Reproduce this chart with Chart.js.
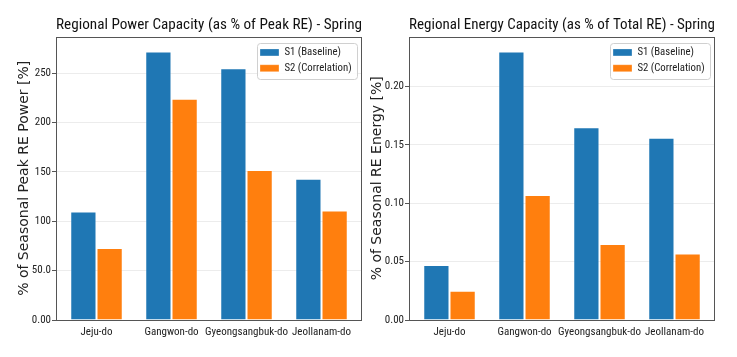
<!DOCTYPE html>
<html>
<head>
<meta charset="utf-8">
<script src="https://cdn.jsdelivr.net/npm/chart.js@4/dist/chart.umd.min.js"></script>
<style>
  html, body { margin: 0; padding: 0; background: #fff; overflow: hidden; }
  body { width: 737px; height: 357px; position: relative; }
  .wrap { position: absolute; top: 0; height: 357px; }
</style>
</head>
<body>
<div class="wrap" style="left:0px;width:418px;"><canvas id="c1"></canvas></div>
<div class="wrap" style="left:360px;width:404px;"><canvas id="c2"></canvas></div>
<script>
// ---- data ----
const categories = ['Jeju-do', 'Gangwon-do', 'Gyeongsangbuk-do', 'Jeollanam-do'];
const seriesNames = ['S1 (Baseline)', 'S2 (Correlation)'];
const powerS1 = [110, 272, 255, 143];
const powerS2 = [73, 224, 152, 111];
const energyS1 = [0.047, 0.230, 0.165, 0.156];
const energyS2 = [0.025, 0.107, 0.065, 0.057];
const powerTicks = [0, 50, 100, 150, 200, 250];
const powerTickLabels = ['0.00', '50.0', '100', '150', '200', '250'];
const energyTicks = [0, 0.05, 0.10, 0.15, 0.20];
const energyTickLabels = ['0.00', '0.05', '0.10', '0.15', '0.20'];

const NARROW = "'Roboto Condensed', 'DejaVu Sans Condensed', sans-serif";
const DEJAVU = "'DejaVu Sans', sans-serif";
const BLUE = '#1f77b4', ORANGE = '#ff7f0e';

const framePlugin = {
  id: 'axesFrame',
  afterDatasetsDraw(chart) {
    const {ctx, chartArea: a} = chart;
    ctx.save();
    ctx.strokeStyle = '#555';
    ctx.lineWidth = 1;
    ctx.strokeRect(Math.round(a.left) + 0.5, Math.round(a.top) + 0.5, Math.round(a.right - a.left) - 1, Math.round(a.bottom - a.top));
    ctx.restore();
  }
};

const legendInside = {
  id: 'legendInside',
  beforeLayout(chart) {
    const lg = chart.legend;
    if (!lg || lg._patched) return;
    lg._patched = true;
    const fit = lg.fit.bind(lg);
    lg.fit = function() { fit(); this._realW = this.width; this._realH = this.height; this.width = 0; };
    const draw = lg.draw.bind(lg);
    lg.draw = function(area) {
      const ctx = this.ctx;
      const f = this._frame;
      if (f) {
        ctx.save();
        ctx.beginPath();
        if (ctx.roundRect) ctx.roundRect(f.x + 0.5, f.y + 0.5, f.w, f.h, 3); else ctx.rect(f.x + 0.5, f.y + 0.5, f.w, f.h);
        ctx.fillStyle = 'rgba(255,255,255,0.9)';
        ctx.fill();
        ctx.strokeStyle = '#d0d0d0';
        ctx.lineWidth = 1;
        ctx.stroke();
        ctx.restore();
      }
      draw(area);
    };
  },
  afterLayout(chart) {
    const lg = chart.legend;
    const a = chart.chartArea;
    const w = lg._realW || 0;
    const fx2 = Math.round(a.right) - 5;
    const left = Math.round(fx2 + 5 - w);
    const top = Math.round(a.top) + 5;
    lg.left = left; lg.right = left + w; lg.width = w;
    lg.top = top; lg.bottom = top + 40; lg.height = 40;
    lg._frame = { x: left + 2, y: Math.round(a.top) + 6, w: fx2 - (left + 2), h: 36 };
  }
};

function makeChart(id, s1, s2, yMax, ticks, tickLabels, title, yTitle, axisW, padRight, yTitlePad) {
  const data = {
    datasets: [
      { label: seriesNames[0], data: s1.map((v, i) => ({x: i, y: v})), backgroundColor: BLUE },
      { label: seriesNames[1], data: s2.map((v, i) => ({x: i, y: v})), backgroundColor: ORANGE }
    ]
  };
  data.datasets.forEach(d => { d.borderColor = 'rgba(255,255,255,0.3)'; d.borderWidth = 1; d.categoryPercentage = 0.7; d.barPercentage = 1.0; });
  return new Chart(document.getElementById(id), {
    type: 'bar',
    data,
    plugins: [framePlugin, legendInside],
    options: {
      responsive: true,
      maintainAspectRatio: false,
      animation: false,
      devicePixelRatio: 1,
      layout: { padding: { left: 0, right: padRight, top: 0, bottom: 0 } },
      plugins: {
        title: {
          display: true, text: title, color: '#111', fullSize: false,
          font: { family: NARROW, size: 15.5, weight: 'normal' },
          padding: { top: 16, bottom: 2 }
        },
        legend: {
          position: 'right', align: 'start', maxWidth: 300,
          labels: { boxWidth: 19, boxHeight: 7, padding: 5, color: '#222', font: { family: NARROW, size: 10.8 } }
        },
        tooltip: { enabled: false }
      },
      scales: {
        x: {
          type: 'linear', min: -0.54, max: 3.54, offset: false,
          afterBuildTicks: s => { s.ticks = categories.map((_, i) => ({ value: i })); },
          afterFit: s => { s.height = 37; },
          grid: { display: false, drawTicks: false },
          border: { display: false },
          ticks: {
            callback: v => categories[v] ?? '',
            maxRotation: 0, minRotation: 0, autoSkip: false,
            padding: 6, color: '#222',
            font: { family: NARROW, size: 11 }
          }
        },
        y: {
          min: 0, max: yMax,
          afterBuildTicks: s => { s.ticks = ticks.map(v => ({ value: v })); },
          afterFit: s => { s.width = axisW; },
          grid: { color: '#ececec', lineWidth: 1, tickLength: 4, tickColor: '#555', drawTicks: true },
          border: { display: false },
          ticks: {
            callback: (v) => { const i = ticks.indexOf(v); return i >= 0 ? tickLabels[i] : ''; },
            padding: 1, color: '#222',
            font: { family: NARROW, size: 11 }
          },
          title: {
            display: true, text: yTitle, color: '#222',
            font: { family: DEJAVU, size: 14 },
            padding: { top: yTitlePad, bottom: 0 }
          }
        }
      }
    }
  });
}

makeChart('c1', powerS1, powerS2, 287, powerTicks, powerTickLabels,
  'Regional Power Capacity (as % of Peak RE) - Spring', '% of Seasonal Peak RE Power [%]', 56, 56, 16);
makeChart('c2', energyS1, energyS2, 0.2427, energyTicks, energyTickLabels,
  'Regional Energy Capacity (as % of Total RE) - Spring', '% of Seasonal RE Energy [%]', 49, 49, 9);
</script>
</body>
</html>
